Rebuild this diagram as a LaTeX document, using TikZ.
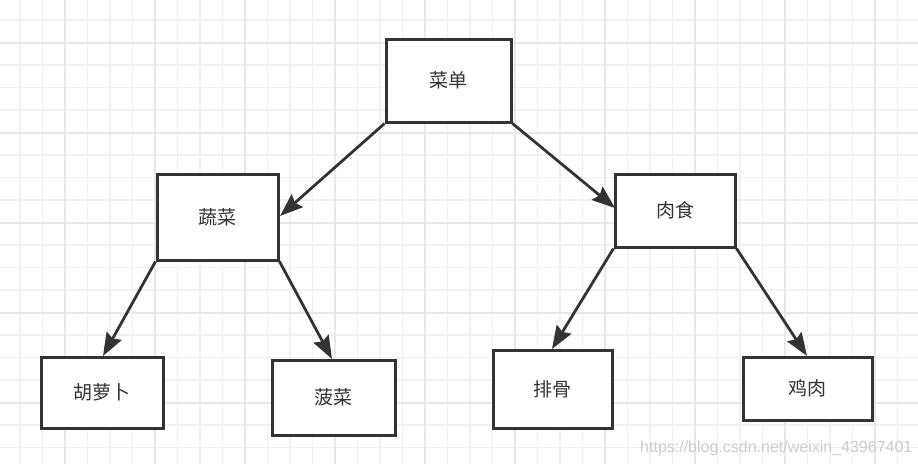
\documentclass[tikz,border=0pt]{standalone}
\usepackage{fontspec}
\newfontfamily\cjk{Noto Sans CJK SC}
\newfontfamily\wmfont{Liberation Sans}
\usetikzlibrary{arrows.meta}
\definecolor{ink}{HTML}{333333}
\definecolor{gridthin}{HTML}{F1F1F1}
\definecolor{gridthick}{HTML}{E8E8E8}
\tikzset{
  box/.style={draw=ink, line width=3pt, fill=white, inner sep=0pt,
    text=ink, font=\cjk\fontsize{19}{21}\selectfont},
  conn/.style={draw=ink, line width=2.8pt,
    -{Stealth[length=23pt,width=17pt,inset=3pt]}},
  watermark/.style={text=black!20, font=\wmfont\fontsize{16}{17}\selectfont, inner sep=0pt}
}
\begin{document}
\begin{tikzpicture}[x=1pt,y=-1pt]
\useasboundingbox (0,0) rectangle (918,464);
\fill[white] (0,0) rectangle (918,464);
% grid
\foreach \i in {0,...,41} {
  \draw[gridthin, line width=1.2pt] ({20+22.5*\i},0) -- ({20+22.5*\i},464);
}
\foreach \i in {0,...,20} {
  \draw[gridthin, line width=1.2pt] (0,{20+22.5*\i}) -- (918,{20+22.5*\i});
}
\foreach \i in {0,...,10} {
  \draw[gridthick, line width=1.4pt] ({65+90*\i},0) -- ({65+90*\i},464);
}
\foreach \i in {0,...,4} {
  \draw[gridthick, line width=1.4pt] (0,{43+90*\i}) -- (918,{43+90*\i});
}
% boxes
\node[box, minimum width=125pt, minimum height=83pt] (menu) at (448.5,80.5) {菜单};
\node[box, minimum width=121pt, minimum height=86pt] (veg) at (217.5,217) {蔬菜};
\node[box, minimum width=120pt, minimum height=73pt] (meat) at (675,210.5) {肉食};
\node[box, minimum width=122pt, minimum height=71pt] (carrot) at (102,392.5) {胡萝卜};
\node[box, minimum width=123pt, minimum height=75pt] (spinach) at (333.5,397.5) {菠菜};
\node[box, minimum width=119pt, minimum height=78pt] (ribs) at (552.5,389) {排骨};
\node[box, minimum width=129pt, minimum height=63pt] (chicken) at (807.5,388.5) {鸡肉};
% arrow tips
\coordinate (tveg) at (280,216);
\coordinate (tmeat) at (615,208);
\coordinate (tcarrot) at (103,356);
\coordinate (tspinach) at (332,359);
\coordinate (tribs) at (552,349);
\coordinate (tchicken) at (807,356);
\draw[conn] (menu.south west) -- (tveg);
\draw[conn] (menu.south east) -- (tmeat);
\draw[conn] (veg.south west) -- (tcarrot);
\draw[conn] (veg.south east) -- (tspinach);
\draw[conn] (meat.south west) -- (tribs);
\draw[conn] (meat.south east) -- (tchicken);
% watermark
\node[watermark, anchor=base west] (wm) at (640,452) {https://blog.csdn.net/weixin\_43967401};
\end{tikzpicture}
\end{document}
